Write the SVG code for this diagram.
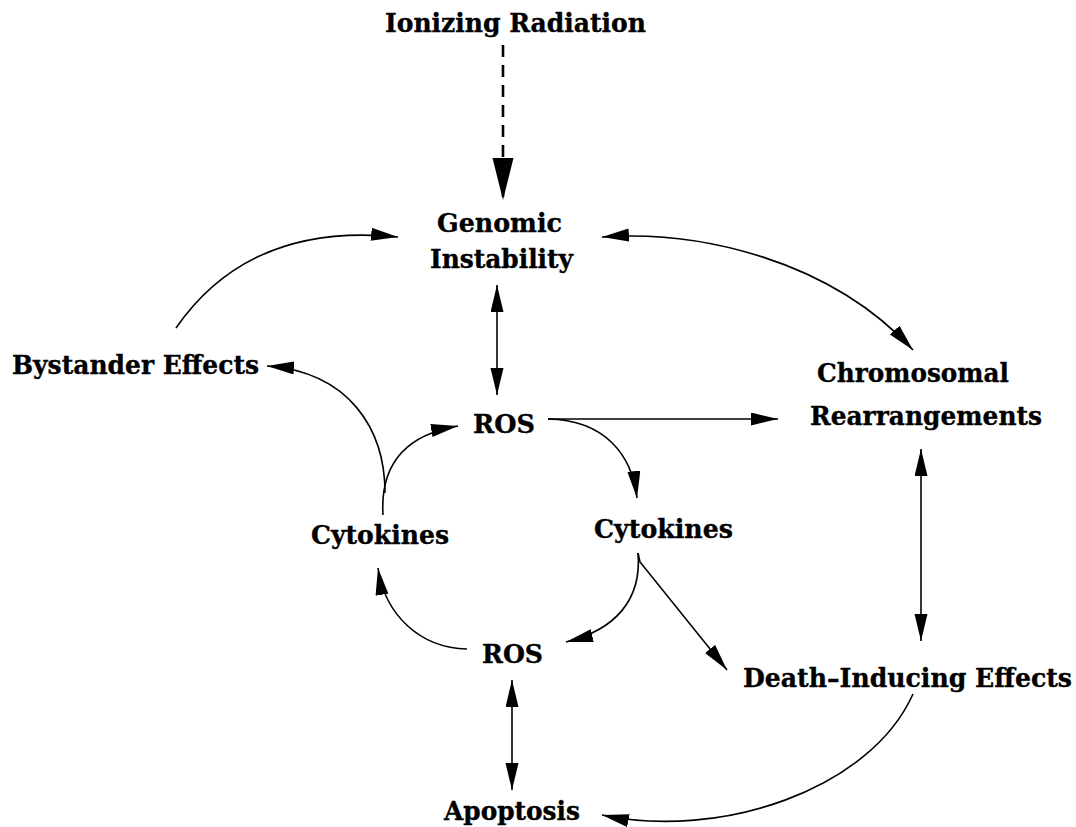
<svg xmlns="http://www.w3.org/2000/svg" width="1076" height="827" viewBox="0 0 1076 827">
<style>
.t{font-family:"DejaVu Serif","Liberation Serif",serif;font-weight:bold;font-size:25.5px;fill:#000;stroke:#000;stroke-width:0.35}
.c{fill:none;stroke:#000;stroke-width:1.6}
.d{stroke-width:2.6;stroke-dasharray:12,8}
</style>
<defs>
<marker id="ah" markerUnits="userSpaceOnUse" markerWidth="28" markerHeight="14" refX="27" refY="6.5" orient="auto-start-reverse" viewBox="0 0 28 14">
<path d="M0,0 L27,6.5 L0,13 z" fill="#000"/>
</marker>
<marker id="big" markerUnits="userSpaceOnUse" markerWidth="43" markerHeight="22" refX="42" refY="10.5" orient="auto" viewBox="0 0 43 22">
<path d="M0,0 L42,10.5 L0,21 z" fill="#000"/>
</marker>
</defs>
<rect width="1076" height="827" fill="#fff"/>
<g id="connectors">
<path class="c d" d="M503,45 L503,200" marker-end="url(#big)"/>
<path class="c" d="M176,328 C230,250 310,228 398,237" marker-end="url(#ah)"/>
<path class="c" d="M602,237 C700,230 830,260 913,350" marker-start="url(#ah)" marker-end="url(#ah)"/>
<path class="c" d="M497,285 L497,395" marker-start="url(#ah)" marker-end="url(#ah)"/>
<path class="c" d="M385,493 C385,430 350,372 267,366" marker-end="url(#ah)"/>
<path class="c" d="M383,515 C380,465 405,435 458,426" marker-end="url(#ah)"/>
<path class="c" d="M548,419 L778,419" marker-end="url(#ah)"/>
<path class="c" d="M548,419 C605,420 632,455 637,498" marker-end="url(#ah)"/>
<path class="c" d="M638,553 C642,600 615,630 566,642" marker-end="url(#ah)"/>
<path class="c" d="M638,553 L640,562 L727,670" marker-end="url(#ah)"/>
<path class="c" d="M467,649 C420,648 385,615 378,568" marker-end="url(#ah)"/>
<path class="c" d="M512,680 L512,790" marker-start="url(#ah)" marker-end="url(#ah)"/>
<path class="c" d="M921,449 L921,641" marker-start="url(#ah)" marker-end="url(#ah)"/>
<path class="c" d="M913,694 C870,790 720,840 602,815" marker-end="url(#ah)"/>
</g>
<g id="ionizing"><text class="t" x="385" y="32" textLength="261" lengthAdjust="spacingAndGlyphs">Ionizing Radiation</text></g>
<g id="genomic"><text class="t" x="437" y="232" textLength="125" lengthAdjust="spacingAndGlyphs">Genomic</text><text class="t" x="430" y="268" textLength="143" lengthAdjust="spacingAndGlyphs">Instability</text></g>
<g id="bystander"><text class="t" x="12" y="374" textLength="247" lengthAdjust="spacingAndGlyphs">Bystander Effects</text></g>
<g id="ros1"><text class="t" x="473" y="433" textLength="62" lengthAdjust="spacingAndGlyphs">ROS</text></g>
<g id="chromosomal"><text class="t" x="817" y="382" textLength="192" lengthAdjust="spacingAndGlyphs">Chromosomal</text><text class="t" x="810" y="425" textLength="232" lengthAdjust="spacingAndGlyphs">Rearrangements</text></g>
<g id="cytokines1"><text class="t" x="311" y="544" textLength="138" lengthAdjust="spacingAndGlyphs">Cytokines</text></g>
<g id="cytokines2"><text class="t" x="594" y="538" textLength="139" lengthAdjust="spacingAndGlyphs">Cytokines</text></g>
<g id="ros2"><text class="t" x="482" y="663" textLength="61" lengthAdjust="spacingAndGlyphs">ROS</text></g>
<g id="death"><text class="t" x="743" y="687" textLength="329" lengthAdjust="spacingAndGlyphs">Death–Inducing Effects</text></g>
<g id="apoptosis"><text class="t" x="444" y="820" textLength="136" lengthAdjust="spacingAndGlyphs">Apoptosis</text></g>
</svg>
